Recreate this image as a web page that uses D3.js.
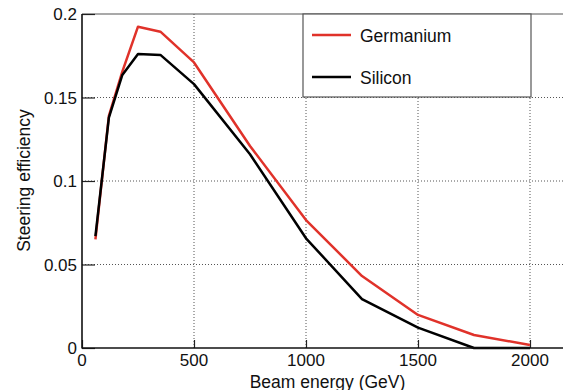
<!DOCTYPE html>
<html>
<head>
<meta charset="utf-8">
<script src="https://cdn.jsdelivr.net/npm/d3@7/dist/d3.min.js"></script>
<style>
  html, body { margin: 0; padding: 0; background: #fff; }
  svg { display: block; }
  text { font-family: "Liberation Sans", Arial, Helvetica, sans-serif; fill: #111; }
</style>
</head>
<body>
<svg id="chart" width="563" height="390"></svg>
<script>
// Beam energies (GeV) and steering efficiency for each crystal
const energies   = [60, 120, 180, 250, 350, 500, 750, 1000, 1250, 1500, 1750, 2000];
const germanium  = [0.065, 0.139, 0.1655, 0.1924, 0.1894, 0.171, 0.121, 0.0766, 0.0431, 0.0198, 0.0078, 0.0018];
const silicon    = [0.067, 0.138, 0.1635, 0.176, 0.1755, 0.158, 0.116, 0.0657, 0.0293, 0.0122, 0.0, 0.0];
const xTicks     = [0, 500, 1000, 1500, 2000];
const yTicks     = [0, 0.05, 0.1, 0.15, 0.2];
const seriesNames  = ["Germanium", "Silicon"];
const seriesColors = ["#e0322a", "#000000"];

const svg = d3.select("#chart");
const plotLeft = 82, plotTop = 14, plotBottom = 348;

const x = d3.scaleLinear().domain([0, 2000]).range([plotLeft, 530]);
const y = d3.scaleLinear().domain([0, 0.2]).range([plotBottom, plotTop]);
const rightEdge = 563;

// dotted grid
const grid = svg.append("g");
grid.selectAll("line.gx").data(xTicks.filter(d => d > 0)).join("line")
  .attr("x1", d => x(d)).attr("x2", d => x(d))
  .attr("y1", plotTop).attr("y2", plotBottom)
  .attr("stroke", "#555").attr("stroke-width", 1)
  .attr("stroke-dasharray", "1,2");
grid.selectAll("line.gy").data(yTicks.filter(d => d > 0 && d < 0.2)).join("line")
  .attr("x1", plotLeft).attr("x2", rightEdge)
  .attr("y1", d => y(d)).attr("y2", d => y(d))
  .attr("stroke", "#555").attr("stroke-width", 1)
  .attr("stroke-dasharray", "1,2");

// top frame line
svg.append("line")
  .attr("x1", plotLeft).attr("x2", rightEdge)
  .attr("y1", y(0.2)).attr("y2", y(0.2))
  .attr("stroke", "#555").attr("stroke-width", 1.2);

// axes: inward ticks
const yAxis = d3.axisRight(y).tickValues(yTicks).tickSize(13).tickFormat("");
svg.append("g").attr("transform", `translate(${plotLeft},0)`).call(yAxis)
  .call(g => g.select(".domain").remove())
  .call(g => g.selectAll(".tick line").attr("stroke", "#222").attr("stroke-width", 1.2));

const xAxis = d3.axisTop(x).tickValues(xTicks).tickSize(8).tickFormat("");
svg.append("g").attr("transform", `translate(0,${plotBottom})`).call(xAxis)
  .call(g => g.select(".domain").remove())
  .call(g => g.selectAll(".tick line").attr("stroke", "#222").attr("stroke-width", 1.2));

// tick labels
svg.append("g").selectAll("text").data(yTicks).join("text")
  .attr("x", plotLeft - 5).attr("y", d => y(d) + 6)
  .attr("text-anchor", "end").attr("font-size", 17)
  .text(d => d === 0 ? "0" : d3.format("")(d));
svg.append("g").selectAll("text").data(xTicks).join("text")
  .attr("x", d => x(d)).attr("y", 366)
  .attr("text-anchor", "middle").attr("font-size", 17)
  .text(d => d);

// data lines
const line = d3.line().x((d, i) => x(energies[i])).y(d => y(d));
[germanium, silicon].forEach((vals, k) => {
  svg.append("path").datum(vals)
    .attr("fill", "none")
    .attr("stroke", seriesColors[k])
    .attr("stroke-width", 2.5)
    .attr("stroke-linejoin", "round")
    .attr("d", line);
});

// axis lines
svg.append("line").attr("x1", plotLeft).attr("x2", plotLeft).attr("y1", plotTop).attr("y2", plotBottom + 0.5)
  .attr("stroke", "#111").attr("stroke-width", 1.6);
svg.append("line").attr("x1", plotLeft).attr("x2", rightEdge).attr("y1", plotBottom).attr("y2", plotBottom)
  .attr("stroke", "#111").attr("stroke-width", 1.6);

// axis titles
svg.append("text")
  .attr("x", 327.5).attr("y", 387.5)
  .attr("text-anchor", "middle").attr("font-size", 17.5)
  .text("Beam energy (GeV)");
svg.append("text")
  .attr("transform", "translate(30,180.5) rotate(-90)")
  .attr("text-anchor", "middle").attr("font-size", 17.5)
  .text("Steering efficiency");

// legend
const legend = svg.append("g");
legend.append("rect")
  .attr("x", 303).attr("y", plotTop).attr("width", 228).attr("height", 83)
  .attr("fill", "#fff").attr("stroke", "#555").attr("stroke-width", 1.2);
const rowY = [35, 77];
seriesNames.forEach((name, k) => {
  legend.append("line")
    .attr("x1", 312).attr("x2", 351).attr("y1", rowY[k]).attr("y2", rowY[k])
    .attr("stroke", seriesColors[k]).attr("stroke-width", 2.5);
  legend.append("text")
    .attr("x", 360).attr("y", rowY[k] + 7)
    .attr("font-size", 17.5)
    .text(name);
});
</script>
</body>
</html>
